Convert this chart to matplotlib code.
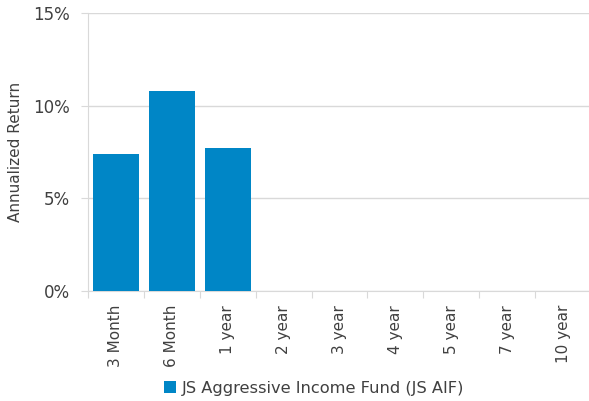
import numpy as np
import matplotlib
matplotlib.use("Agg")
import matplotlib.pyplot as plt
from matplotlib.ticker import FuncFormatter

categories = ["3 Month", "6 Month", "1 year", "2 year", "3 year",
              "4 year", "5 year", "7 year", "10 year"]
returns = [7.4, 10.8, 7.7, 0, 0, 0, 0, 0, 0]
series_name = "JS Aggressive Income Fund (JS AIF)"

bar_color = "#0086C6"
grid_color = "#d9d9d9"
text_color = "#404040"

fig = plt.figure(figsize=(5.89, 4.01), dpi=100)
ax = fig.add_axes([88 / 589, 1 - 291 / 401, 503 / 589, 278 / 401])

x = np.arange(len(categories))
bars = ax.bar(x, returns, width=0.82, color=bar_color, label=series_name, zorder=3)

ax.set_xlim(-0.5, len(categories) - 0.5)
ax.set_ylim(0, 15)
ax.set_yticks([0, 5, 10, 15])
ax.yaxis.set_major_formatter(FuncFormatter(lambda v, p: f"{v:.0f}%"))
ax.grid(axis="y", color=grid_color, linewidth=1, zorder=0)

# category boundary ticks, labels centred under bars
ax.set_xticks(np.arange(len(categories) + 1) - 0.5)
ax.set_xticklabels([])
ax.set_xticks(x, minor=True)
ax.set_xticklabels(categories, minor=True, rotation=90, fontsize=11, color=text_color)
ax.tick_params(axis="x", which="minor", length=0, pad=10)
ax.tick_params(axis="x", which="major", length=5, color=grid_color)
ax.tick_params(axis="y", length=5, color=grid_color, labelsize=12,
               labelcolor=text_color, pad=8)

for side in ["top", "right"]:
    ax.spines[side].set_visible(False)
ax.spines["left"].set_color(grid_color)
ax.spines["bottom"].set_color(grid_color)

ax.set_ylabel("Annualized Return", fontsize=11, color=text_color, labelpad=7)

fig.legend(handles=[bars], labels=[series_name], loc="center",
           bbox_to_anchor=(314 / 589, 1 - 388 / 401), frameon=False,
           fontsize=11.7, handlelength=0.75, handleheight=0.75, handletextpad=0.3,
           labelcolor=text_color)

fig.savefig("out.png", dpi=100)
